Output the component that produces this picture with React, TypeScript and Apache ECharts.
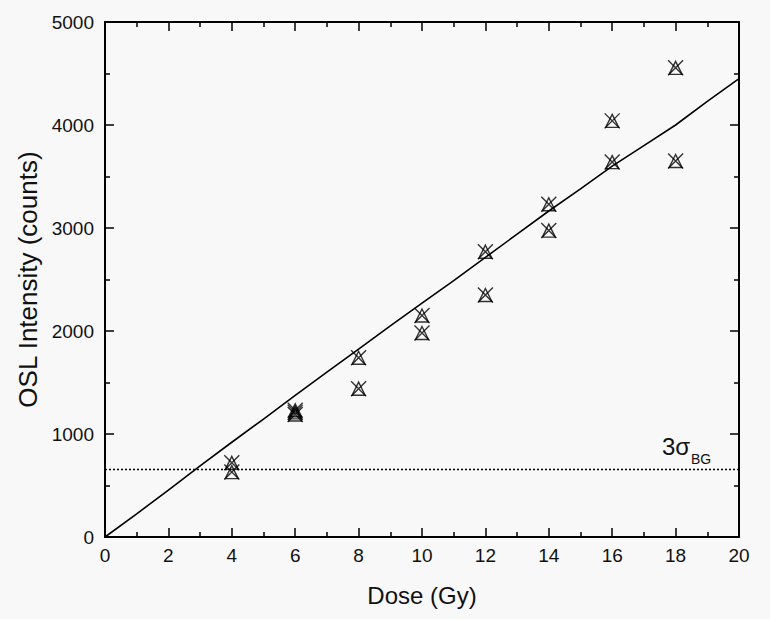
import React, { useEffect, useRef } from "react";
import * as echarts from "echarts";

// Measured points (Dose in Gy, OSL intensity in counts)
const pointDose = [4, 4, 6, 6, 6, 8, 8, 10, 10, 12, 12, 14, 14, 16, 16, 18, 18];
const pointCounts = [720, 630, 1230, 1210, 1190, 1740, 1440, 2150, 1980, 2770, 2350, 3230, 2975, 4040, 3640, 4555, 3650];

// Fitted response curve
const fitDose = [0, 1, 2, 3, 4, 5, 6, 7, 8, 9, 10, 11, 12, 13, 14, 15, 16, 17, 18, 19, 20];
const fitCounts = [0, 225, 455, 690, 920, 1145, 1375, 1600, 1825, 2050, 2270, 2490, 2715, 2940, 3165, 3380, 3600, 3800, 4000, 4230, 4450];

// Detection limit (3 sigma of background)
const threeSigmaBG = 660;
const limitLabelMain = "3σ";
const limitLabelSub = "BG";

const xTickLabels = ["0", "2", "4", "6", "8", "10", "12", "14", "16", "18", "20"];
const yTickLabels = ["0", "1000", "2000", "3000", "4000", "5000"];

const FONT = "'Liberation Sans', Arial, sans-serif";
const BG = "#f8f8f8";

export default function App() {
  const ref = useRef<HTMLDivElement>(null);

  useEffect(() => {
    document.body.style.margin = "0";
    document.body.style.background = BG;
    if (!ref.current) return;
    const chart = echarts.init(ref.current, null, { renderer: "svg" });

    const axisLine = { show: true, onZero: false, lineStyle: { color: "#000", width: 2 } };
    const axisTick = { show: true, inside: true, length: 9, lineStyle: { color: "#000", width: 1.5 } };
    const minorTick = { show: true, splitNumber: 2, length: 5, lineStyle: { color: "#000", width: 1.5 } };

    const xCommon = {
      type: "value" as const,
      min: 0,
      max: 20,
      interval: 2,
      axisLine,
      axisTick,
      minorTick,
      splitLine: { show: false },
    };
    const yCommon = {
      type: "value" as const,
      min: 0,
      max: 5000,
      interval: 1000,
      axisLine,
      axisTick,
      minorTick,
      splitLine: { show: false },
    };

    const crossPath = "path://M0,0L10,10M10,0L0,10";
    const scatterData = pointDose.map((d, i) => [d, pointCounts[i]]);
    const fitData = fitDose.map((d, i) => [d, fitCounts[i]]);

    chart.setOption({
      animation: false,
      backgroundColor: BG,
      textStyle: { fontFamily: FONT },
      grid: { left: 105, right: 31, top: 22, bottom: 82 },
      xAxis: [
        {
          ...xCommon,
          position: "bottom",
          name: "Dose (Gy)",
          nameLocation: "middle",
          nameGap: 46,
          nameTextStyle: { fontSize: 24, color: "#111", fontFamily: FONT },
          axisLabel: {
            fontSize: 19,
            color: "#111",
            margin: 9,
            fontFamily: FONT,
            formatter: (v: number) => xTickLabels[Math.round(v / 2)] ?? String(v),
          },
        },
        {
          ...xCommon,
          position: "top",
          axisLabel: { show: false },
        },
      ],
      yAxis: [
        {
          ...yCommon,
          position: "left",
          name: "OSL Intensity (counts)",
          nameLocation: "middle",
          nameGap: 62,
          nameTextStyle: { fontSize: 26, color: "#111", fontFamily: FONT },
          axisLabel: {
            fontSize: 19,
            color: "#111",
            margin: 11,
            fontFamily: FONT,
            formatter: (v: number) => yTickLabels[Math.round(v / 1000)] ?? String(v),
          },
        },
        {
          ...yCommon,
          position: "right",
          axisLabel: { show: false },
        },
      ],
      series: [
        {
          type: "line",
          data: fitData,
          showSymbol: false,
          symbol: "none",
          lineStyle: { color: "#000", width: 1.6 },
          z: 3,
          markLine: {
            silent: true,
            symbol: "none",
            lineStyle: { color: "#000", width: 1.4, type: [2, 2] },
            label: { show: false },
            data: [{ yAxis: threeSigmaBG }],
          },
        },
        {
          type: "scatter",
          data: scatterData,
          symbol: "triangle",
          symbolSize: [13, 13],
          itemStyle: { color: "transparent", borderColor: "#000", borderWidth: 1.4 },
          z: 4,
        },
        {
          type: "scatter",
          data: scatterData,
          symbol: crossPath,
          symbolSize: [15, 15],
          itemStyle: { color: "transparent", borderColor: "#000", borderWidth: 1.4 },
          z: 5,
        },
      ],
    });

    const p = chart.convertToPixel({ xAxisIndex: 0, yAxisIndex: 0 }, [20, threeSigmaBG]) as number[];
    const xEnd = p[0];
    const yLine = p[1];
    chart.setOption({
      graphic: [
        {
          type: "text",
          x: xEnd - 77,
          y: yLine - 23,
          silent: true,
          style: {
            text: limitLabelMain,
            fontSize: 24,
            fontFamily: FONT,
            fill: "#111",
            align: "left",
            verticalAlign: "middle",
          },
        },
        {
          type: "text",
          x: xEnd - 48,
          y: yLine - 10,
          silent: true,
          style: {
            text: limitLabelSub,
            fontSize: 14,
            fontFamily: FONT,
            fill: "#111",
            align: "left",
            verticalAlign: "middle",
          },
        },
      ],
    });

    return () => chart.dispose();
  }, []);

  return (
    <div
      ref={ref}
      style={{ position: "absolute", left: 0, top: 0, width: 770, height: 619 }}
    />
  );
}
